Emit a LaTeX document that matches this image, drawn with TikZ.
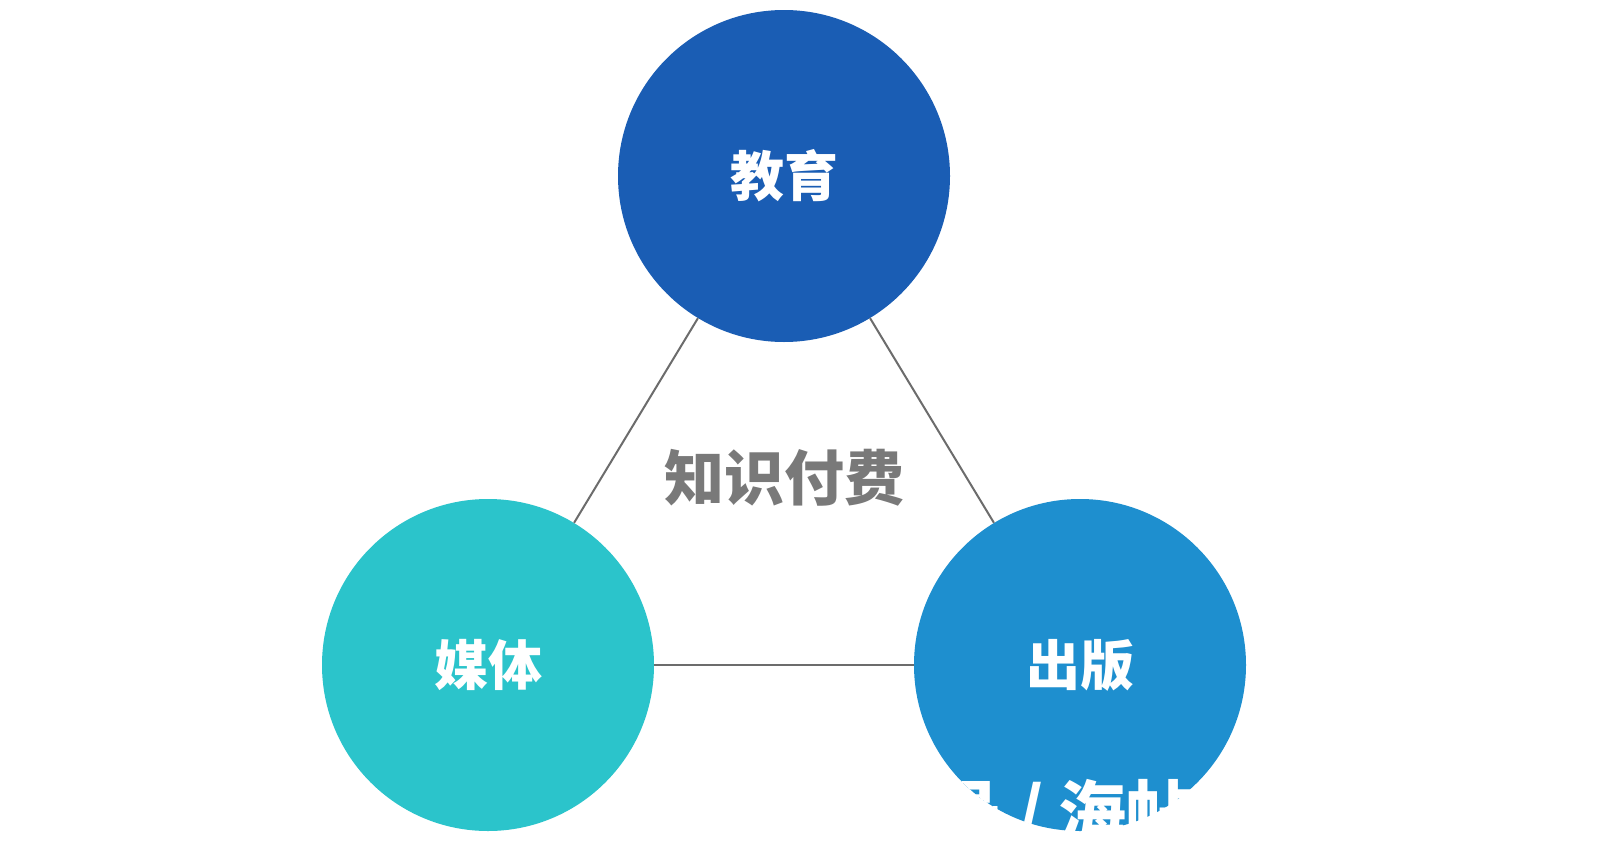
\documentclass[tikz,border=0pt]{standalone}
\usepackage{fontspec}
\newfontfamily\cjk{Noto Sans CJK SC}
\definecolor{cA}{HTML}{1A5DB4}
\definecolor{cB}{HTML}{2BC4CB}
\definecolor{cC}{HTML}{1E8FCF}
\begin{document}
\begin{tikzpicture}[x=1pt,y=-1pt,
  circ/.style={circle,minimum size=332pt,inner sep=0pt,text=white,font=\cjk\bfseries\fontsize{54}{60}\selectfont},
  link/.style={draw=gray!85!black,line width=2pt}]
\useasboundingbox[fill=white] (0,0) rectangle (1615,865);
\node[circ,fill=cA] (top) at (784,176) {教育};
\node[circ,fill=cB] (left) at (488,665) {媒体};
\node[circ,fill=cC] (right) at (1080,665) {出版};
\node[text=gray!95!black,font=\cjk\bfseries\fontsize{60}{66}\selectfont] (mid) at (784,478) {知识付费};
\draw[link] (top) -- (left);
\draw[link] (top) -- (right);
\draw[link] (left.east) -- (right.west);
\begin{scope}
\clip (1080,665) circle (166);
\node[text=white,font=\cjk\bfseries\fontsize{68}{70}\selectfont,anchor=west] (wm) at (930,815) {号 / 海帖};
\end{scope}
\end{tikzpicture}
\end{document}
